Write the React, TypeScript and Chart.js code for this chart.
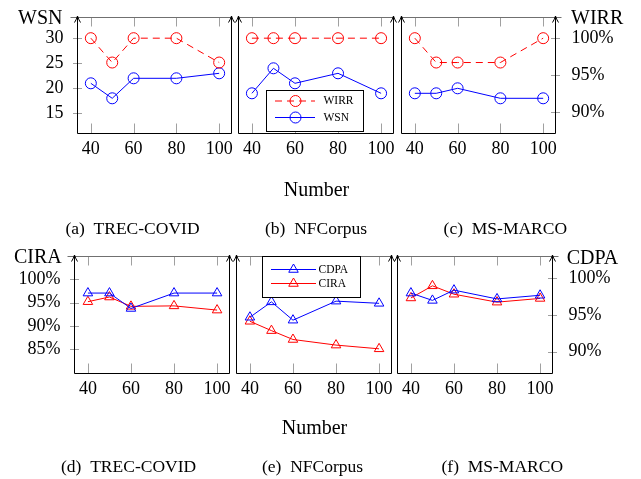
import React, { useEffect, useRef } from 'react';
import { Chart, registerables } from 'chart.js';

Chart.register(...registerables);

// ---------- data ----------
const xValues = [40, 50, 60, 80, 100];
const xTicks = [40, 60, 80, 100];
const wsnTicks = [15, 20, 25, 30];
const wirrTicks = [90, 95, 100];
const ciraTicks = [85, 90, 95, 100];
const cdpaTicks = [90, 95, 100];

const wsnTrec = [21, 18, 22, 22, 23];
const wirrTrec = [100, 96.7, 100, 100, 96.7];
const wsnNF = [19, 24, 21, 23, 19];
const wirrNF = [100, 100, 100, 100, 100];
const wsnMS = [19, 19, 20, 18, 18];
const wirrMS = [100, 96.7, 96.7, 96.7, 100];

const ciraTrec = [95.2, 96.2, 94.2, 94.3, 93.4];
const cdpaTrec = [98.0, 98.0, 95.9, 98.0, 98.0];
const ciraNF = [91.0, 89.0, 87.1, 85.9, 85.1];
const cdpaNF = [94.7, 96.8, 94.3, 96.9, 96.6];
const ciraMS = [96.0, 98.6, 96.8, 95.1, 95.9];
const cdpaMS = [98.0, 97.0, 98.4, 97.2, 97.7];

const datasetNames = ['TREC-COVID', 'NFCorpus', 'MS-MARCO'];
const topTags = ['(a)', '(b)', '(c)'];
const bottomTags = ['(d)', '(e)', '(f)'];
const xTitle = 'Number';

// ---------- style / layout ----------
const W = 641;
const H = 479;
const SERIF = '"Liberation Serif", "Times New Roman", serif';
const RED = '#ff0000';
const BLUE = '#0000ff';
const LW = 70;
const RW = 70;
const XH = 70;

type Series = { label: string; values: number[]; axis: string; color: string; dash: boolean };
type Legend = { x0: number; x1: number; y0: number; y1: number; rows: number[]; lx0: number; lx1: number; mx: number; tx: number };
type Panel = {
  l: number; r: number; t: number; b: number;
  leftShown: boolean; rightShown: boolean;
  yRange: number[]; y1Range: number[];
  leftTicks: number[]; rightTicks: number[];
  leftPct: boolean; rightPct: boolean;
  marker: string;
  series: Series[];
  title: boolean; titlePad: number; xPad: number;
  legend?: Legend;
};

const topY = [11.06, 34.26];
const topY1 = [87.15, 102.87];
const botY = [79.92, 104.99];
const botY1 = [87.09, 103.06];

function topSeries(wsn: number[], wirr: number[]): Series[] {
  return [
    { label: 'WIRR', values: wirr, axis: 'y1', color: RED, dash: true },
    { label: 'WSN', values: wsn, axis: 'y', color: BLUE, dash: false },
  ];
}
function bottomSeries(cira: number[], cdpa: number[]): Series[] {
  return [
    { label: 'CDPA', values: cdpa, axis: 'y1', color: BLUE, dash: false },
    { label: 'CIRA', values: cira, axis: 'y', color: RED, dash: false },
  ];
}

const topCommon = {
  t: 17, b: 133, yRange: topY, y1Range: topY1, leftTicks: wsnTicks, rightTicks: wirrTicks,
  leftPct: false, rightPct: true, marker: 'circle', titlePad: 0.2, xPad: 5.2,
};
const botCommon = {
  t: 256, b: 373, yRange: botY, y1Range: botY1, leftTicks: ciraTicks, rightTicks: cdpaTicks,
  leftPct: true, rightPct: true, marker: 'triangle', titlePad: 1.8, xPad: 5,
};

const panels: Panel[] = [
  { ...topCommon, l: 78, r: 232, leftShown: true, rightShown: false, title: false, series: topSeries(wsnTrec, wirrTrec) },
  {
    ...topCommon, l: 239, r: 394, leftShown: false, rightShown: false, title: true, series: topSeries(wsnNF, wirrNF),
    legend: { x0: 266, x1: 363, y0: 90, y1: 131, rows: [101, 117.5], lx0: 275, lx1: 315, mx: 295.5, tx: 323.5 },
  },
  { ...topCommon, l: 402, r: 556, leftShown: false, rightShown: true, title: false, series: topSeries(wsnMS, wirrMS) },
  { ...botCommon, l: 75, r: 230, leftShown: true, rightShown: false, title: false, series: bottomSeries(ciraTrec, cdpaTrec) },
  {
    ...botCommon, l: 237, r: 392, leftShown: false, rightShown: false, title: true, series: bottomSeries(ciraNF, cdpaNF),
    legend: { x0: 262, x1: 360, y0: 256, y1: 297, rows: [269.5, 283.5], lx0: 271, lx1: 316, mx: 293.5, tx: 318.5 },
  },
  { ...botCommon, l: 398, r: 553, leftShown: false, rightShown: true, title: false, series: bottomSeries(ciraMS, cdpaMS) },
];

function drawMarker(ctx: CanvasRenderingContext2D, style: string, x: number, y: number, r: number) {
  ctx.beginPath();
  if (style === 'triangle') {
    let rad = 0;
    ctx.moveTo(x + Math.sin(rad) * r, y - Math.cos(rad) * r);
    rad += (2 * Math.PI) / 3;
    ctx.lineTo(x + Math.sin(rad) * r, y - Math.cos(rad) * r);
    rad += (2 * Math.PI) / 3;
    ctx.lineTo(x + Math.sin(rad) * r, y - Math.cos(rad) * r);
    ctx.closePath();
  } else {
    ctx.arc(x, y, r, 0, Math.PI * 2);
  }
  ctx.stroke();
}

function framePlugin(p: Panel) {
  return {
    id: 'frameAxes',
    beforeDatasetsDraw(chart: any) {
      const { ctx, chartArea } = chart;
      const xl = Math.round(chartArea.left) - 0.5;
      const xr = Math.round(chartArea.right) - 0.5;
      const yt = Math.round(chartArea.top) + 0.5;
      const yb = Math.round(chartArea.bottom) + 0.5;
      ctx.save();
      ctx.lineWidth = 1;
      ctx.setLineDash([]);
      ctx.strokeStyle = '#a0a0a0';
      ctx.beginPath();
      for (const v of xTicks) {
        const x = Math.round(chart.scales.x.getPixelForValue(v)) + 0.5;
        ctx.moveTo(x, yt);
        ctx.lineTo(x, yt + 9);
        ctx.moveTo(x, yb);
        ctx.lineTo(x, yb - 10);
      }
      if (p.leftShown) {
        for (const v of p.leftTicks) {
          const y = Math.round(chart.scales.y.getPixelForValue(v)) + 0.5;
          ctx.moveTo(xl - 4.5, y);
          ctx.lineTo(xl + 4.5, y);
        }
      }
      if (p.rightShown) {
        for (const v of p.rightTicks) {
          const y = Math.round(chart.scales.y1.getPixelForValue(v)) + 0.5;
          ctx.moveTo(xr - 4.5, y);
          ctx.lineTo(xr + 4.5, y);
        }
      }
      ctx.stroke();
      ctx.strokeStyle = '#707070';
      ctx.beginPath();
      ctx.moveTo(xl - (p.leftShown ? 7 : 0), yt);
      ctx.lineTo(xr + (p.rightShown ? 6 : 0), yt);
      ctx.stroke();
      ctx.strokeStyle = '#000';
      ctx.beginPath();
      ctx.moveTo(xl, yb);
      ctx.lineTo(xr, yb);
      ctx.moveTo(xl, yb);
      ctx.lineTo(xl, yt - 1);
      ctx.moveTo(xr, yb);
      ctx.lineTo(xr, yt - 1);
      ctx.stroke();
      for (const x of [xl, xr]) {
        ctx.beginPath();
        ctx.moveTo(x - 3, yt + 5);
        ctx.quadraticCurveTo(x - 0.8, yt + 1.5, x, yt - 1.5);
        ctx.quadraticCurveTo(x + 0.8, yt + 1.5, x + 3, yt + 5);
        ctx.stroke();
      }
      ctx.restore();
    },
    afterDatasetsDraw(chart: any) {
      const L = p.legend;
      if (!L) return;
      const ctx = chart.ctx;
      ctx.save();
      ctx.fillStyle = '#fff';
      ctx.fillRect(L.x0, L.y0, L.x1 - L.x0, L.y1 - L.y0);
      ctx.strokeStyle = '#000';
      ctx.lineWidth = 1;
      ctx.strokeRect(L.x0 + 0.5, L.y0 + 0.5, L.x1 - L.x0, L.y1 - L.y0);
      chart.data.datasets.forEach((ds: any, i: number) => {
        const y = L.rows[i];
        ctx.strokeStyle = ds.borderColor;
        ctx.setLineDash(ds.borderDash || []);
        ctx.beginPath();
        ctx.moveTo(L.lx0, y);
        ctx.lineTo(L.lx1, y);
        ctx.stroke();
        ctx.setLineDash([]);
        drawMarker(ctx, ds.pointStyle, L.mx, y, 5.5);
        ctx.fillStyle = '#000';
        ctx.font = `11.5px ${SERIF}`;
        ctx.textBaseline = 'middle';
        ctx.textAlign = 'left';
        ctx.fillText(ds.label, L.tx, y);
      });
      ctx.restore();
    },
  };
}

function zeroPad(s: any) {
  s.paddingTop = 0;
  s.paddingBottom = 0;
  s.paddingLeft = 0;
  s.paddingRight = 0;
}

function buildConfig(p: Panel): any {
  const tickFont = { family: SERIF, size: 18 };
  const pct = (v: any) => `${v}%`;
  const plain = (v: any) => `${v}`;
  return {
    type: 'line',
    data: {
      datasets: p.series.map((s) => ({
        label: s.label,
        data: xValues.map((x, i) => ({ x, y: s.values[i] })),
        yAxisID: s.axis,
        borderColor: s.color,
        borderWidth: 1,
        borderDash: s.dash ? [7, 5] : [],
        pointStyle: p.marker,
        pointRadius: 5.5,
        pointHoverRadius: 5.5,
        pointBorderWidth: 1,
        pointBorderColor: s.color,
        pointBackgroundColor: 'rgba(0,0,0,0)',
        fill: false,
        tension: 0,
        clip: 8,
      })),
    },
    options: {
      responsive: false,
      animation: false,
      events: [],
      layout: {
        autoPadding: false,
        padding: {
          left: p.l - (p.leftShown ? LW : 0),
          right: W - p.r - (p.rightShown ? RW : 0),
          top: p.t,
          bottom: H - p.b - XH,
        },
      },
      plugins: { legend: { display: false }, tooltip: { enabled: false }, title: { display: false } },
      scales: {
        x: {
          type: 'linear',
          position: 'bottom',
          min: 34,
          max: 106,
          afterBuildTicks: (s: any) => { s.ticks = xTicks.map((v) => ({ value: v })); },
          afterFit: (s: any) => { s.height = XH; zeroPad(s); },
          grid: { display: false, drawTicks: false },
          border: { display: false },
          ticks: { font: tickFont, color: '#000', padding: p.xPad, autoSkip: false, maxRotation: 0, minRotation: 0 },
          title: {
            display: p.title,
            text: xTitle,
            color: '#000',
            font: { family: SERIF, size: 20 },
            padding: { top: 0, bottom: p.titlePad },
          },
        },
        y: {
          type: 'linear',
          position: 'left',
          display: p.leftShown,
          min: p.yRange[0],
          max: p.yRange[1],
          afterBuildTicks: (s: any) => { s.ticks = p.leftTicks.map((v) => ({ value: v })); },
          afterFit: (s: any) => { s.width = p.leftShown ? LW : 0; zeroPad(s); },
          grid: { display: false, drawTicks: false },
          border: { display: false },
          ticks: { font: tickFont, color: '#000', padding: 14.5, callback: p.leftPct ? pct : plain },
        },
        y1: {
          type: 'linear',
          position: 'right',
          display: p.rightShown,
          min: p.y1Range[0],
          max: p.y1Range[1],
          afterBuildTicks: (s: any) => { s.ticks = p.rightTicks.map((v) => ({ value: v })); },
          afterFit: (s: any) => { s.width = p.rightShown ? RW : 0; zeroPad(s); },
          grid: { display: false, drawTicks: false },
          border: { display: false },
          ticks: { font: tickFont, color: '#000', padding: 15.5, callback: p.rightPct ? pct : plain },
        },
      },
    },
    plugins: [framePlugin(p)],
  };
}

function PanelChart({ p }: { p: Panel }) {
  const ref = useRef<HTMLCanvasElement | null>(null);
  useEffect(() => {
    if (!ref.current) return;
    const chart = new Chart(ref.current, buildConfig(p));
    return () => chart.destroy();
  }, [p]);
  return (
    <canvas
      ref={ref}
      width={W}
      height={H}
      style={{ position: 'absolute', left: 0, top: 0, width: W, height: H }}
    />
  );
}

function Label({ x, base, size, text }: { x: number; base: number; size: number; text: string }) {
  return (
    <div
      style={{
        position: 'absolute',
        left: x,
        top: base - 0.8375 * size,
        fontFamily: SERIF,
        fontSize: size,
        lineHeight: `${size}px`,
        whiteSpace: 'nowrap',
        color: '#000',
      }}
    >
      {text}
    </div>
  );
}

const topCaptionX = [65.4, 265, 443.6];
const bottomCaptionX = [61, 262, 441.5];

export default function App() {
  return (
    <div style={{ position: 'absolute', left: 0, top: 0, width: W, height: H, background: '#fff', overflow: 'hidden' }}>
      {panels.map((p, i) => (
        <PanelChart key={i} p={p} />
      ))}
      <Label x={18} base={23.3} size={20} text="WSN" />
      <Label x={571} base={23.3} size={20} text="WIRR" />
      <Label x={14} base={262.7} size={20} text="CIRA" />
      <Label x={566.7} base={263.3} size={20} text="CDPA" />
      {datasetNames.map((n, i) => (
        <Label key={'t' + i} x={topCaptionX[i]} base={235} size={17.5} text={`${topTags[i]}\u2002${n}`} />
      ))}
      {datasetNames.map((n, i) => (
        <Label key={'b' + i} x={bottomCaptionX[i]} base={473} size={17.5} text={`${bottomTags[i]}\u2002${n}`} />
      ))}
    </div>
  );
}
